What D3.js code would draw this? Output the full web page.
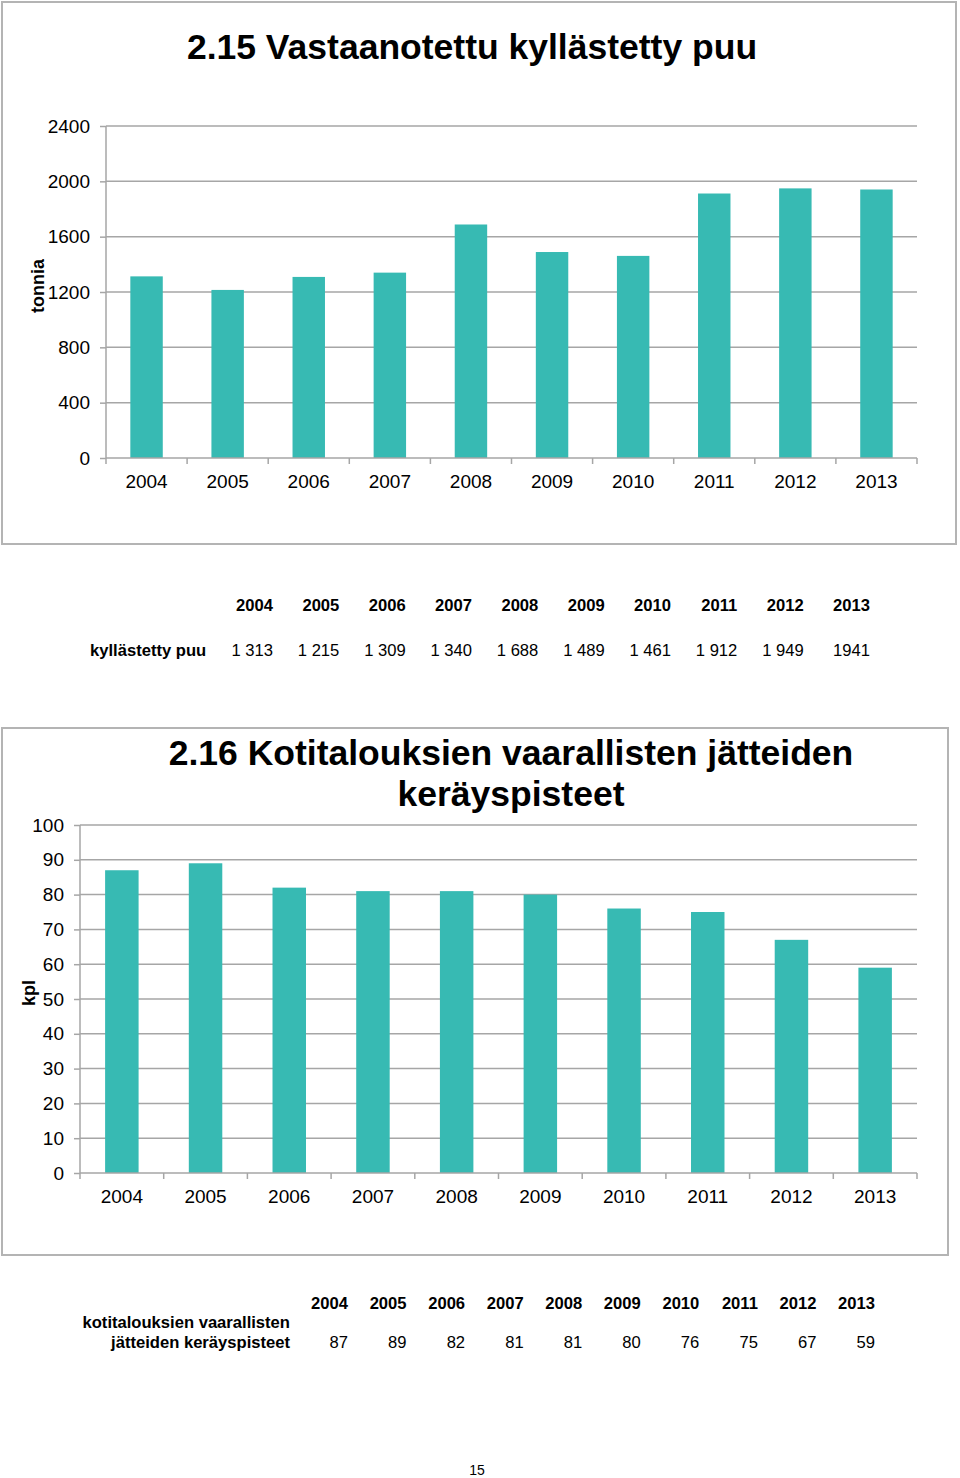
<!DOCTYPE html>
<html><head><meta charset="utf-8">
<script src="https://cdn.jsdelivr.net/npm/d3@7"></script>
<style>body{margin:0;background:#fff}svg{display:block;font-family:"Liberation Sans",Arial,sans-serif}</style>
</head><body>
<script>
const years = ["2004","2005","2006","2007","2008","2009","2010","2011","2012","2013"];
const woodValues = [1313,1215,1309,1340,1688,1489,1461,1912,1949,1941];
const woodLabels = ["1 313","1 215","1 309","1 340","1 688","1 489","1 461","1 912","1 949","1941"];
const woodTicks = [0,400,800,1200,1600,2000,2400];
const pointValues = [87,89,82,81,81,80,76,75,67,59];
const pointTicks = [0,10,20,30,40,50,60,70,80,90,100];
const title1 = "2.15 Vastaanotettu kyllästetty puu";
const title2 = ["2.16 Kotitalouksien vaarallisten jätteiden","keräyspisteet"];

const W=960,H=1478, BAR="#37bab3", GRID="#a6a6a6", FRAME="#b4b4b4";
const svg=d3.select("body").append("svg").attr("width",W).attr("height",H);

function chart(o){
  svg.append("rect").attr("x",o.frame[0]).attr("y",o.frame[1]).attr("width",o.frame[2]).attr("height",o.frame[3])
    .attr("fill","none").attr("stroke",FRAME).attr("stroke-width",2);
  const xb=d3.scaleBand().domain(years).range([o.x0,o.x1]);
  const y=d3.scaleLinear().domain([0,o.max]).range([o.y0,o.y1]);
  const g=svg.append("g");
  g.selectAll(".gl").data(o.ticks.slice(1)).join("line").attr("x1",o.x0).attr("x2",o.x1)
    .attr("y1",d=>y(d)).attr("y2",d=>y(d)).attr("stroke",GRID).attr("stroke-width",1.5);
  g.selectAll(".bar").data(o.values).join("rect")
    .attr("x",(d,i)=>xb(years[i])+xb.bandwidth()*0.3).attr("width",xb.bandwidth()*0.4)
    .attr("y",d=>y(d)).attr("height",d=>y(0)-y(d)).attr("fill",BAR);
  const ya=g.append("g").attr("transform",`translate(${o.x0},0)`)
    .call(d3.axisLeft(y).tickValues(o.ticks).tickSize(6).tickPadding(10).tickFormat(d=>d));
  ya.select(".domain").attr("stroke",GRID).attr("stroke-width",1.5).attr("d",`M0,${o.y0}V${o.y1}`);
  ya.selectAll(".tick line").attr("stroke",GRID).attr("stroke-width",1.5);
  ya.selectAll("text").attr("font-size",19).attr("fill","#000").attr("font-family","Liberation Sans, Arial");
  const xa=g.append("g").attr("transform",`translate(0,${o.y0})`)
    .call(d3.axisBottom(xb).tickSize(0).tickPadding(17));
  xa.select(".domain").attr("stroke",GRID).attr("stroke-width",1.5).attr("d",`M${o.x0},0H${o.x1}`);
  xa.selectAll("text").attr("font-size",19).attr("fill","#000").attr("font-family","Liberation Sans, Arial").attr("dy","0.71em");
  const bnds=years.map(yy=>xb(yy)).concat([o.x1]);
  g.selectAll(".xt").data(bnds).join("line").attr("x1",d=>d).attr("x2",d=>d)
    .attr("y1",o.y0).attr("y2",o.y0+6).attr("stroke",GRID).attr("stroke-width",1.5);
  svg.append("text").attr("transform",`translate(${o.ytx},${o.yty}) rotate(-90)`)
    .attr("text-anchor","middle").attr("font-weight","bold").attr("font-size",18).text(o.ytitle);
  o.title.forEach((t,i)=>svg.append("text").attr("x",o.tx).attr("y",o.ty+i*41).attr("text-anchor","middle")
    .attr("font-weight","bold").attr("font-size",35.5).text(t));
}

chart({frame:[2,2,954,542],x0:106,x1:917,y0:458,y1:126,max:2400,ticks:woodTicks,values:woodValues,
  ytitle:"tonnia",ytx:44,yty:286,title:[title1],tx:472,ty:59});
chart({frame:[2,728,946,527],x0:80,x1:917,y0:1173,y1:825,max:100,ticks:pointTicks,values:pointValues,
  ytitle:"kpl",ytx:35,yty:993,title:title2,tx:511,ty:765});

const FS=16.6;
const t1=d3.scalePoint().domain(years).range([273,870]);
svg.append("g").selectAll("text").data(years).join("text").attr("x",d=>t1(d)).attr("y",611)
  .attr("text-anchor","end").attr("font-weight","bold").attr("font-size",FS).text(d=>d);
svg.append("g").selectAll("text").data(woodLabels).join("text").attr("x",(d,i)=>t1(years[i])).attr("y",656)
  .attr("text-anchor","end").attr("font-size",FS).text(d=>d);
svg.append("text").attr("x",90).attr("y",656).attr("font-weight","bold").attr("font-size",FS).text("kyllästetty puu");

const t2=d3.scalePoint().domain(years).range([348,875]);
svg.append("g").selectAll("text").data(years).join("text").attr("x",d=>t2(d)).attr("y",1309)
  .attr("text-anchor","end").attr("font-weight","bold").attr("font-size",FS).text(d=>d);
svg.append("g").selectAll("text").data(pointValues).join("text").attr("x",(d,i)=>t2(years[i])).attr("y",1348)
  .attr("text-anchor","end").attr("font-size",FS).text(d=>d);
svg.append("text").attr("x",290).attr("y",1328).attr("text-anchor","end").attr("font-weight","bold").attr("font-size",FS).text("kotitalouksien vaarallisten");
svg.append("text").attr("x",290).attr("y",1348).attr("text-anchor","end").attr("font-weight","bold").attr("font-size",FS).text("jätteiden keräyspisteet");

svg.append("text").attr("x",477).attr("y",1475).attr("text-anchor","middle").attr("font-size",14).text("15");
</script>
</body></html>
